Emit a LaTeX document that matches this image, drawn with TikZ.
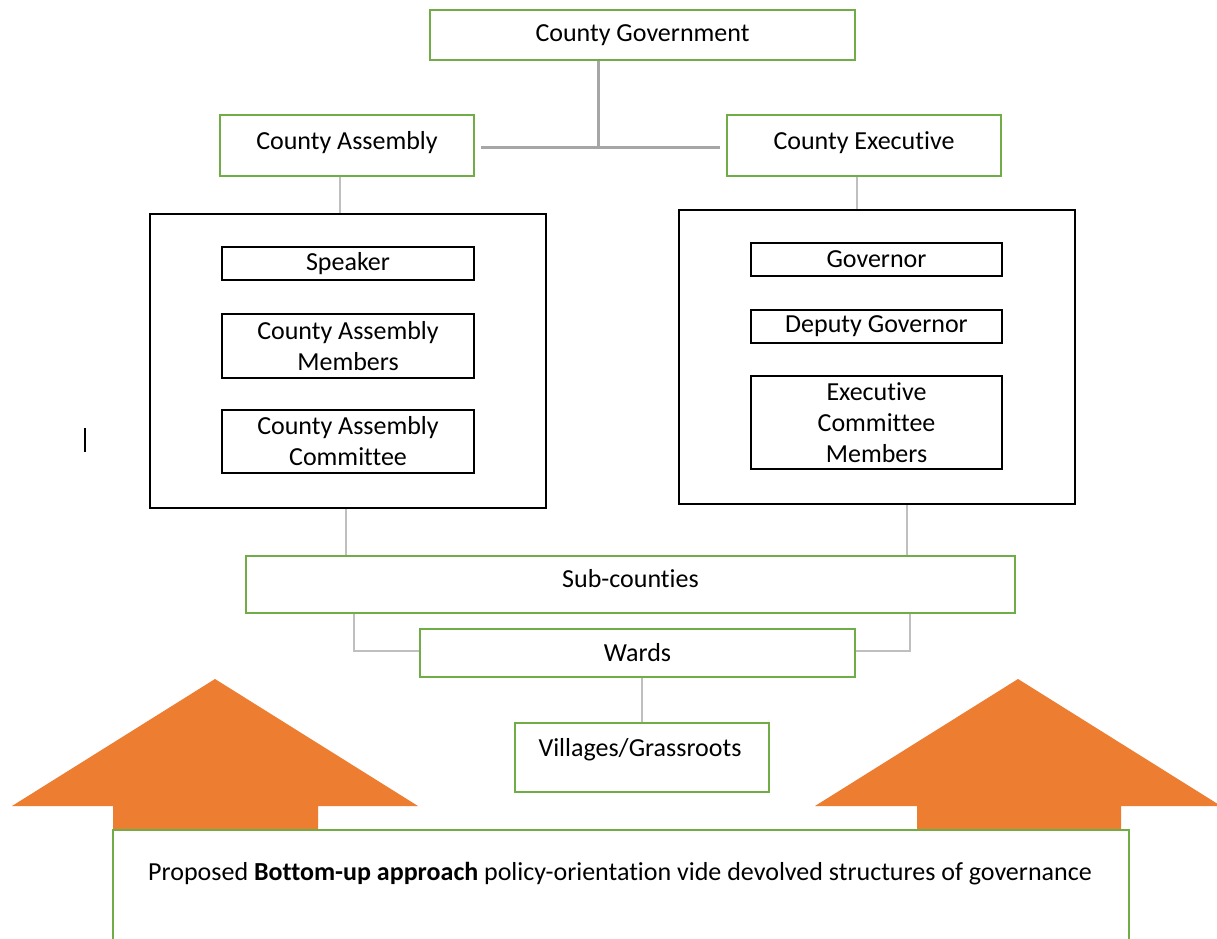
\documentclass[tikz,border=0pt]{standalone}
\usepackage{fontspec}
\setmainfont{Carlito}[Ligatures=NoCommon]
\definecolor{grn}{RGB}{112,173,71}
\definecolor{orng}{RGB}{237,125,49}
\definecolor{dgray}{RGB}{166,166,166}
\definecolor{lgray}{RGB}{191,191,191}
\begin{document}
\begin{tikzpicture}[x=1pt,y=-1pt, font=\fontsize{26}{31}\selectfont,
  gbox/.style={draw=grn, line width=1.5pt, fill=white, inner sep=0pt, align=center},
  kbox/.style={draw=black, line width=1.5pt, inner sep=0pt, align=center},
  conn/.style={draw=lgray, line width=2pt},
  conn2/.style={draw=dgray, line width=3pt},
  txt/.style={inner sep=0pt, align=center}]
\useasboundingbox (0,0) rectangle (1217,938);
\clip (0,0) rectangle (1217,938);
\fill[white] (0,0) rectangle (1217,938);
% top level
\node[gbox, minimum width=425pt, minimum height=50pt] (gov) at (642.5,35) {County Government};
\node[gbox, minimum width=254pt, minimum height=61pt, text depth=10pt] (asm) at (347,145.5) {County Assembly};
\node[gbox, minimum width=274pt, minimum height=61pt, text depth=10pt] (exe) at (864,145.5) {County Executive};
\coordinate (j) at (598,147);
\draw[conn2] (gov.south -| j) -- (j);
\draw[conn2] ([xshift=6pt]asm.east |- j) -- ([xshift=-6pt]exe.west |- j);
% left group
\node[kbox, minimum width=396pt, minimum height=294pt] (lbig) at (348,361) {};
\node[kbox, minimum width=252pt, minimum height=33pt] (spk) at (348,263.5) {Speaker};
\node[kbox, minimum width=252pt, minimum height=64pt] (mem) at (348,346) {County Assembly\\Members};
\node[kbox, minimum width=252pt, minimum height=63pt] (com) at (348,441.5) {County Assembly\\Committee};
\draw[conn] ([xshift=-7pt]asm.south) -- ([xshift=-7pt]asm.south |- lbig.north);
% right group
\node[kbox, minimum width=396pt, minimum height=294pt] (rbig) at (877,357) {};
\node[kbox, minimum width=251pt, minimum height=33pt] (gvn) at (876.5,259.5) {Governor};
\node[kbox, minimum width=251pt, minimum height=33pt] (dep) at (876.5,326.5) {Deputy Governor};
\node[kbox, minimum width=251pt, minimum height=93pt] (ecm) at (876.5,422.5) {Executive\\Committee\\Members};
\draw[conn] ([xshift=-7pt]exe.south) -- ([xshift=-7pt]exe.south |- rbig.north);
% sub-counties and wards
\node[gbox, minimum width=769pt, minimum height=57pt, text depth=12pt] (sub) at (630.5,584.5) {Sub-counties};
\draw[conn] ([xshift=-2pt]lbig.south) -- ([xshift=-2pt]lbig.south |- sub.north);
\draw[conn] ([xshift=30pt]rbig.south) -- ([xshift=30pt]rbig.south |- sub.north);
\node[gbox, minimum width=435pt, minimum height=48pt] (wrd) at (637.5,653) {Wards};
\coordinate (wl) at (354,651);
\coordinate (wr) at (910,651);
\draw[conn] (sub.south -| wl) -- (wl) -- (wl -| wrd.west);
\draw[conn] (sub.south -| wr) -- (wr) -- (wr -| wrd.east);
\node[gbox, minimum width=254pt, minimum height=69pt] (vil) at (642,757.5) {};
\node[txt] (viltxt) at (640,750) {Villages/Grassroots};
\draw[conn] (wrd.south -| vil.north) -- (vil.north);
% orange arrows
\fill[orng] (215,679) -- (418,806) -- (318,806) -- (318,835) -- (113,835) -- (113,806) -- (12,806) -- cycle;
\fill[orng] (1018,679) -- (1221,806) -- (1121,806) -- (1121,835) -- (917,835) -- (917,806) -- (815,806) -- cycle;
% bottom box
\node[gbox, anchor=north west, minimum width=1016pt, minimum height=130pt] (bot) at (112,829) {};
\node[txt] (bottxt) at (620,874) {Proposed \textbf{Bottom-up approach} policy-orientation vide devolved structures of governance};
% stray mark
\draw[line width=1.5pt] (85,428) -- (85,452);
\end{tikzpicture}
\end{document}
